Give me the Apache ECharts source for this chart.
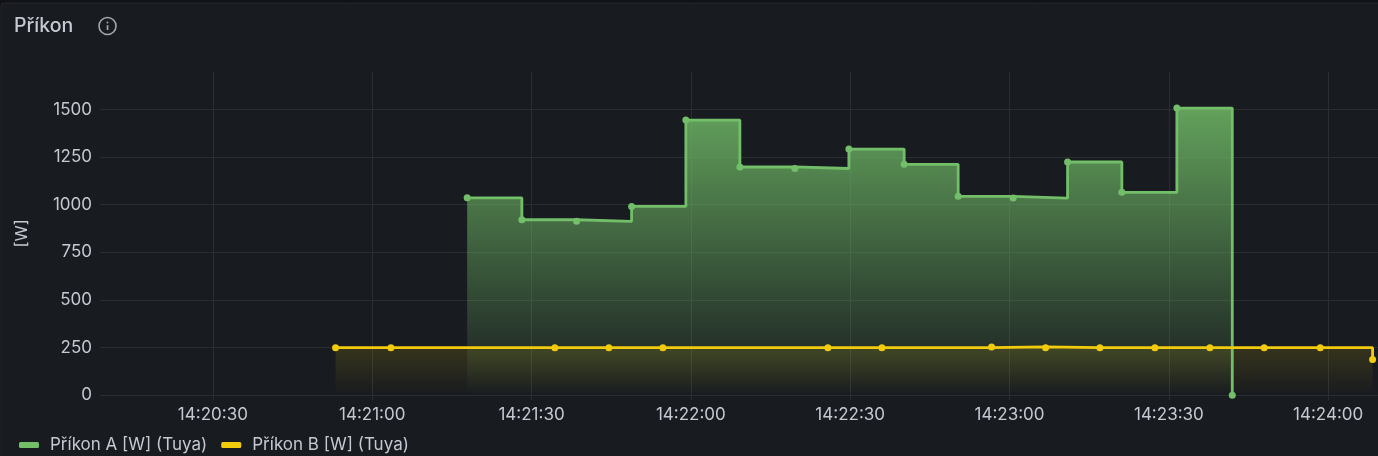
<!DOCTYPE html>
<html>
<head>
<meta charset="utf-8">
<style>html,body{margin:0;padding:0;background:#111217;overflow:hidden}#c{width:1378px;height:456px}</style>
<script src="https://cdn.jsdelivr.net/npm/echarts@6/dist/echarts.min.js"></script>
</head>
<body>
<div id="c"></div>
<script>
const titleText = "Příkon";
const yAxisName = "[W]";
const nameA = "Příkon A [W] (Tuya)";
const nameB = "Příkon B [W] (Tuya)";
const xTicks = ["14:20:30","14:21:00","14:21:30","14:22:00","14:22:30","14:23:00","14:23:30","14:24:00"];
const yTicks = [0,250,500,750,1000,1250,1500];
const xStart = "14:20:08.86";
const xEnd = "14:24:09.36";
const timesA = ["14:21:17.88","14:21:28.18","14:21:38.48","14:21:48.84","14:21:59.06","14:22:09.23","14:22:19.58","14:22:29.75","14:22:40.16","14:22:50.33","14:23:00.69","14:23:10.93","14:23:21.15","14:23:31.51","14:23:41.94"];
const valuesA = [1036,921,913,991,1444,1198,1190,1292,1212,1044,1035,1224,1065,1507,0];
const timesB = ["14:20:53.10","14:21:03.52","14:21:34.39","14:21:44.56","14:21:54.73","14:22:25.80","14:22:35.97","14:22:56.62","14:23:06.79","14:23:17.01","14:23:27.37","14:23:37.72","14:23:47.95","14:23:58.50","14:24:08.36"];
const valuesB = [250,250,250,250,250,250,250,254,250,250,250,250,250,250,188];

const toSec = s => { const p = s.split(":").map(Number); return p[0]*3600 + p[1]*60 + p[2]; };
const pad = n => String(n).padStart(2,"0");
const fmt = v => { const t = Math.round(v); return pad(Math.floor(t/3600))+":"+pad(Math.floor(t/60)%60)+":"+pad(t%60); };
const FONT = "Inter";
const TXT = "#c7c8d3";
const GRID = "#2a2d32";
const GREEN = "#73bf69";
const YELLOW = "#f2cc0c";
const xTickVals = xTicks.map(toSec);
const grad = (rgb,a) => ({type:"linear",x:0,y:0,x2:0,y2:1,colorStops:[{offset:0,color:`rgba(${rgb},${a})`},{offset:1,color:`rgba(${rgb},0)`}]});

const chart = echarts.init(document.getElementById("c"),null,{renderer:"canvas"});
chart.setOption({
  animation:false,
  backgroundColor:"transparent",
  textStyle:{fontFamily:FONT},
  title:{text:titleText,left:14,top:15,padding:0,textStyle:{color:TXT,fontFamily:FONT,fontSize:19.5,fontWeight:500,lineHeight:23}},
  graphic:[
    {type:"rect",z:-10,silent:true,shape:{x:1,y:3,width:1400,height:500,r:3},style:{fill:"#181b1f",stroke:"#24272b",lineWidth:1}},
    {type:"circle",silent:true,shape:{cx:107.5,cy:26,r:8.5},style:{fill:"none",stroke:"#a4a5ae",lineWidth:1.6}},
    {type:"rect",silent:true,shape:{x:106.7,y:25.2,width:1.7,height:4.8},style:{fill:"#a4a5ae"}},
    {type:"circle",silent:true,shape:{cx:107.5,cy:22.5,r:1},style:{fill:"#a4a5ae"}}
  ],
  legend:{
    left:19,top:435,padding:0,itemWidth:20,itemHeight:6,itemGap:14,icon:"roundRect",
    textStyle:{color:TXT,fontFamily:FONT,fontSize:17,lineHeight:20,padding:[0,0,0,6]},
    data:[nameA,nameB]
  },
  grid:{left:100.6,right:0.1,top:71.3,bottom:60.7,containLabel:false},
  xAxis:{
    type:"value",min:toSec(xStart),max:toSec(xEnd),
    axisLine:{show:false},
    axisTick:{show:true,length:5,lineStyle:{color:GRID},customValues:xTickVals},
    splitLine:{show:true,lineStyle:{color:GRID,width:1}},
    axisLabel:{color:TXT,fontFamily:FONT,fontSize:17,margin:11,customValues:xTickVals,formatter:v=>fmt(v),hideOverlap:false,showMinLabel:true,showMaxLabel:true}
  },
  yAxis:{
    type:"value",min:0,max:1700,
    name:yAxisName,nameLocation:"middle",nameGap:69.6,nameRotate:90,
    nameTextStyle:{color:TXT,fontFamily:FONT,fontSize:16.5},
    axisLine:{show:false},
    axisTick:{show:false,customValues:yTicks},
    splitLine:{show:true,lineStyle:{color:GRID,width:1}},
    axisLabel:{color:TXT,fontFamily:FONT,fontSize:17,margin:8.6,customValues:yTicks,formatter:v=>String(v)}
  },
  series:[
    {name:nameA,type:"line",step:"end",clip:false,showSymbol:true,showAllSymbol:true,symbol:"circle",symbolSize:7,
     itemStyle:{color:GREEN},lineStyle:{color:GREEN,width:2.8},areaStyle:{opacity:1,color:grad("115,191,105",0.82)},
     data:timesA.map((t,i)=>[toSec(t),valuesA[i]])},
    {name:nameB,type:"line",step:"end",clip:false,showSymbol:true,showAllSymbol:true,symbol:"circle",symbolSize:7,
     itemStyle:{color:YELLOW},lineStyle:{color:YELLOW,width:2.8},areaStyle:{opacity:1,color:grad("242,204,12",0.14)},
     data:timesB.map((t,i)=>[toSec(t),valuesB[i]])}
  ]
});
</script>
</body>
</html>
